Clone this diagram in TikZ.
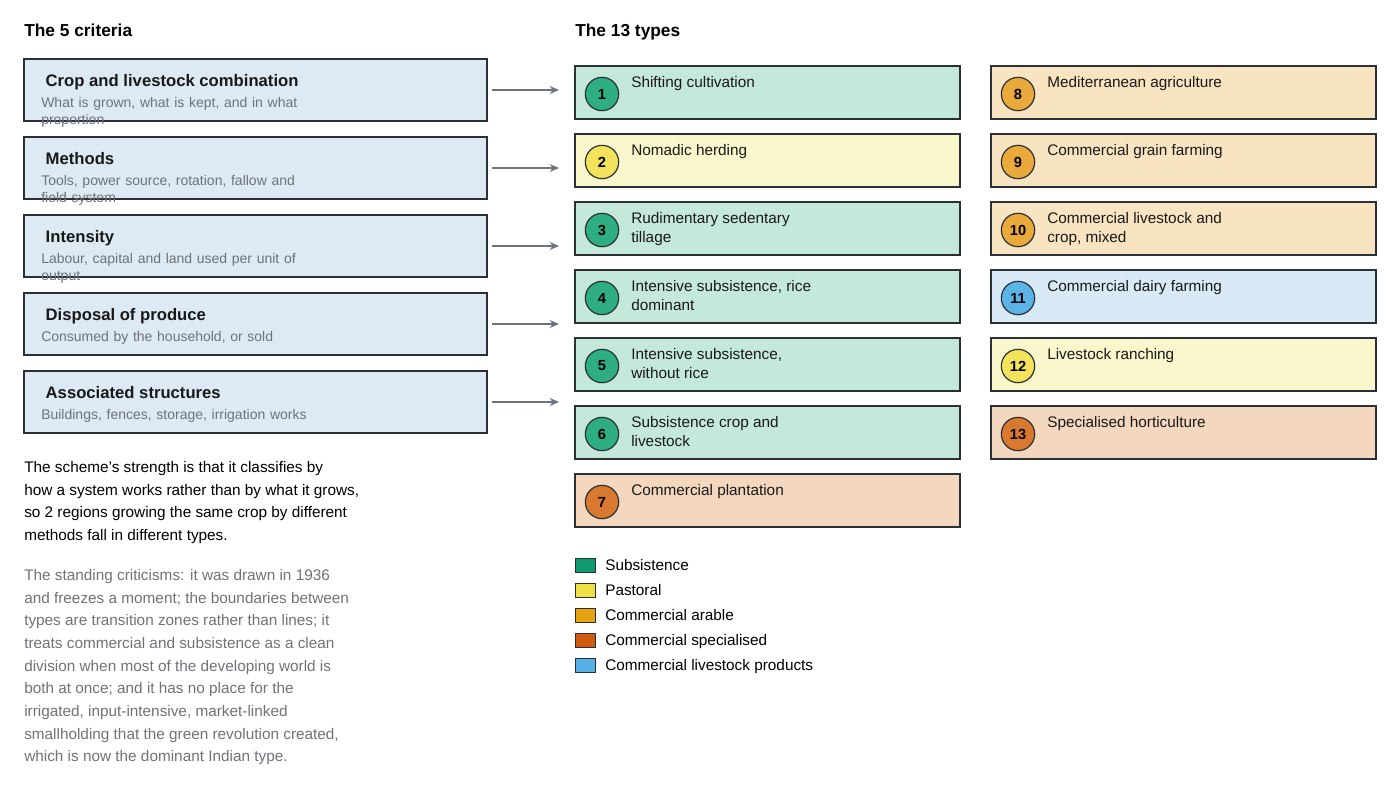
\documentclass[tikz,border=0pt]{standalone}
\usepackage{fontspec}
\usetikzlibrary{arrows.meta}
\setmainfont{Liberation Sans}
\begin{document}
\definecolor{crit}{HTML}{DDEAF3}
\definecolor{edge}{HTML}{2B2F36}
\definecolor{arr}{HTML}{6B7280}
\definecolor{gry}{HTML}{6E7378}
\definecolor{fS}{HTML}{C4E8DA}\definecolor{cS}{HTML}{2FAE84}
\definecolor{fP}{HTML}{FBF7CD}\definecolor{cP}{HTML}{F2E35A}
\definecolor{fA}{HTML}{F8E4C1}\definecolor{cA}{HTML}{E9A93B}
\definecolor{fX}{HTML}{F4D7BF}\definecolor{cX}{HTML}{D9792F}
\definecolor{fL}{HTML}{D7EAF6}\definecolor{cL}{HTML}{5CB4E6}
\definecolor{lS}{HTML}{0E9A6E}\definecolor{lP}{HTML}{F0E046}
\definecolor{lA}{HTML}{E5A312}\definecolor{lX}{HTML}{CF5A10}\definecolor{lL}{HTML}{56B0E6}
\begin{tikzpicture}[x=0.75pt,y=-0.75pt,
  crit/.style={draw=edge,fill=crit,line width=1pt},
  ctitle/.style={anchor=base west,font=\fontsize{12.5}{14}\selectfont\bfseries,text=black!90},
  csub/.style={anchor=north west,font=\fontsize{10.5}{13}\selectfont,text=gry,align=left,text width=205pt,inner sep=0pt},
  tbox/.style={draw=edge,line width=1pt},
  tnum/.style={circle,draw=edge,line width=0.9pt,minimum size=25pt,inner sep=0pt,font=\fontsize{11}{13}\selectfont\bfseries},
  tlab/.style={anchor=north west,font=\fontsize{11.5}{14.3}\selectfont,align=left,inner sep=0pt,text=black!90},
  arrow/.style={draw=arr,line width=1.1pt,-{Stealth[length=7pt,width=6pt]}},
  head/.style={anchor=base west,font=\fontsize{13}{15}\selectfont\bfseries,inner sep=0pt},
  para/.style={anchor=north west,font=\fontsize{11.5}{17}\selectfont,align=left,inner sep=0pt},
  leg/.style={anchor=base west,font=\fontsize{11.5}{14}\selectfont,inner sep=0pt}]
\useasboundingbox (0,0) rectangle (1400,790);
\node[head] (h1) at (24,36) {The 5 criteria};
\node[head] (h2) at (575,36) {The 13 types};
% criteria
\foreach \y/\t/\s [count=\i] in {59/Crop and livestock combination/{What is grown, what is kept, and in what proportion},
  137/Methods/{Tools, power source, rotation, fallow and field system},
  215/Intensity/{Labour, capital and land used per unit of output},
  293/Disposal of produce/{Consumed by the household, or sold},
  371/Associated structures/{Buildings, fences, storage, irrigation works}}{
  \draw[crit] (24,\y) rectangle (487,\y+62);
  \node[ctitle] (ct\i) at (41,\y+27) {\t};
  \node[csub] (cs\i) at (41,\y+38) {\s};
  \coordinate (as\i) at (492,\y+31);
  \coordinate (ae\i) at (559,\y+31);
  \draw[arrow] (as\i) -- (ae\i);
}
% types
\foreach \x/\y/\n/\f/\c/\t in {
 575/66/1/fS/cS/{Shifting cultivation},
 575/134/2/fP/cP/{Nomadic herding},
 575/202/3/fS/cS/{Rudimentary sedentary\\tillage},
 575/270/4/fS/cS/{Intensive subsistence, rice\\dominant},
 575/338/5/fS/cS/{Intensive subsistence,\\without rice},
 575/406/6/fS/cS/{Subsistence crop and\\livestock},
 575/474/7/fX/cX/{Commercial plantation},
 991/66/8/fA/cA/{Mediterranean agriculture},
 991/134/9/fA/cA/{Commercial grain farming},
 991/202/10/fA/cA/{Commercial livestock and\\crop, mixed},
 991/270/11/fL/cL/{Commercial dairy farming},
 991/338/12/fP/cP/{Livestock ranching},
 991/406/13/fX/cX/{Specialised horticulture}}{
  \draw[tbox,fill=\f] (\x,\y) rectangle (\x+385,\y+53);
  \node[tnum,fill=\c] (n\n) at (\x+27,\y+28) {\n};
  \node[tlab] (t\n) at (\x+56,\y+10) {\t};
}
% legend
\foreach \c/\t [count=\i] in {lS/Subsistence,lP/Pastoral,lA/Commercial arable,lX/Commercial specialised,lL/Commercial livestock products}{
  \draw[fill=\c,draw=edge,line width=0.6pt] (575,533+25*\i) rectangle (595,547+25*\i);
  \node[leg] (l\i) at (605,545.5+25*\i) {\t};
}
\node[para] (p1) at (24,461) {The scheme's strength is that it classifies by\\how a system works rather than by what it grows,\\so 2 regions growing the same crop by different\\methods fall in different types.};
\node[para,text=gry] (p2) at (24,569) {The standing criticisms: it was drawn in 1936\\and freezes a moment; the boundaries between\\types are transition zones rather than lines; it\\treats commercial and subsistence as a clean\\division when most of the developing world is\\both at once; and it has no place for the\\irrigated, input-intensive, market-linked\\smallholding that the green revolution created,\\which is now the dominant Indian type.};
\end{tikzpicture}
\end{document}
